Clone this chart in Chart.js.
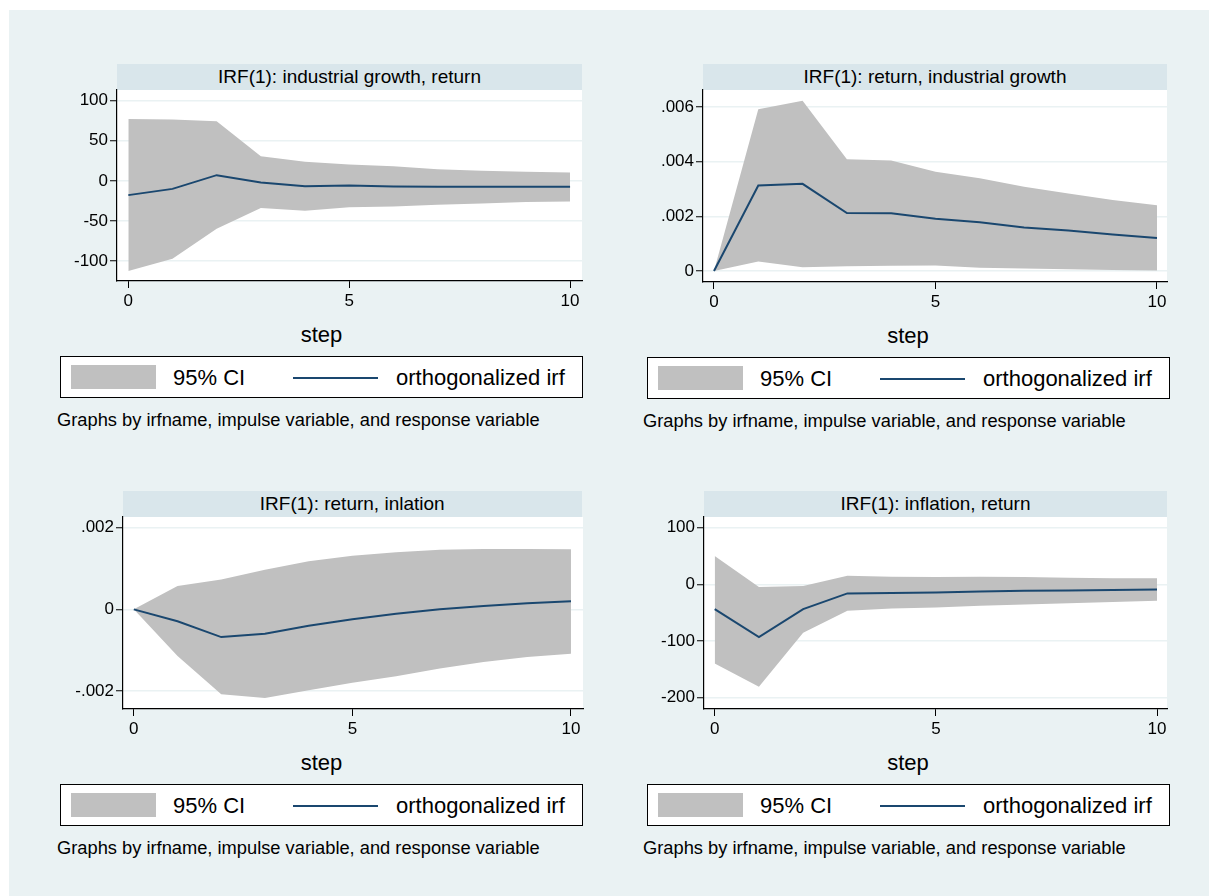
<!DOCTYPE html>
<html>
<head>
<meta charset="utf-8">
<script src="https://cdn.jsdelivr.net/npm/chart.js@4.4.1/dist/chart.umd.min.js"></script>
<style>
  html, body { margin: 0; padding: 0; background: #ffffff; }
  body { width: 1209px; height: 896px; position: relative; overflow: hidden;
         font-family: 'Liberation Sans', Arial, Helvetica, sans-serif; color: #000; }
  #bg { position: absolute; left: 9px; top: 10px; right: 0; bottom: 0; background: #eaf2f3; }
  .hdr { position: absolute; background: #d9e6eb; font-size: 19px; text-align: center;
         display: flex; align-items: center; justify-content: center; white-space: nowrap; }
  .step { position: absolute; font-size: 22px; transform: translate(-50%, -50%); white-space: nowrap; }
  .legend { position: absolute; width: 521px; height: 40px; background: #fff; border: 1.5px solid #000; }
  .legend .sw { position: absolute; left: 10px; top: 8px; width: 85px; height: 24px; background: #c0c0c0; }
  .legend .ln { position: absolute; left: 232px; top: 20px; width: 85px; height: 2px; background: #1a476f; }
  .legend .t1, .legend .t2 { position: absolute; top: 0; line-height: 42px; font-size: 22px; white-space: nowrap; }
  .legend .t1 { left: 112px; }
  .legend .t2 { left: 335px; }
  .note { position: absolute; font-size: 18.3px; transform: translateY(-50%); white-space: nowrap; }
  canvas { position: absolute; }
</style>
</head>
<body>
<div id="bg"></div>
<script>
// ── data ──
const steps = [0, 1, 2, 3, 4, 5, 6, 7, 8, 9, 10];
const xTicks = [0, 5, 10];

const p1Upper = [77, 76.5, 74.4, 30.8, 23.7, 20.4, 18.3, 14.6, 12.5, 11.2, 10.4];
const p1Lower = [-112.5, -97.2, -59.8, -34, -37.4, -33, -32, -29.9, -28.2, -26.5, -25.7];
const p1Irf = [-17.8, -10, 7.1, -2, -6.6, -5.8, -7, -7.4, -7.5, -7.5, -7.5];
const p1YTicks = [-100, -50, 0, 50, 100];
const p1YLabels = ['-100', '-50', '0', '50', '100'];

const p2Upper = [0, .00592, .00623, .00409, .00404, .00363, .00339, .00308, .00284, .0026, .00241];
const p2Lower = [0, .00035, .000135, .00017, .00019, .0002, .00012, .00009, .00006, .00004, .00002];
const p2Irf = [0, .00313, .00319, .00212, .00211, .00191, .00178, .00159, .00148, .00134, .00121];
const p2YTicks = [0, .002, .004, .006];
const p2YLabels = ['0', '.002', '.004', '.006'];

const p3Upper = [0, .00057, .00073, .00097, .00118, .00131, .0014, .00146, .00148, .00148, .00147];
const p3Lower = [0, -.00114, -.00208, -.00217, -.00198, -.0018, -.00164, -.00145, -.00129, -.00117, -.00109];
const p3Irf = [0, -.00029, -.00068, -.0006, -.0004, -.00024, -.00011, 0, .00008, .00015, .0002];
const p3YTicks = [-.002, 0, .002];
const p3YLabels = ['-.002', '0', '.002'];

const p4Upper = [50, -4.8, -3, 15.2, 13.5, 13, 13.5, 13, 11.7, 11, 11];
const p4Lower = [-139.4, -180.7, -85.4, -46.6, -42.4, -40.6, -37.7, -35.3, -33.5, -31.2, -28.9];
const p4Irf = [-43.6, -93, -43.6, -15.9, -15.3, -14.2, -12.4, -11.2, -10.6, -10, -8.9];
const p4YTicks = [-200, -100, 0, 100];
const p4YLabels = ['-200', '-100', '0', '100'];

const titles = [
  'IRF(1): industrial growth, return',
  'IRF(1): return, industrial growth',
  'IRF(1): return, inlation',
  'IRF(1): inflation, return'
];
const legendLabels = ['95% CI', 'orthogonalized irf'];
const noteText = 'Graphs by irfname, impulse variable, and response variable';

// ── layout of the four panels ──
const panels = [
  { upper: p1Upper, lower: p1Lower, irf: p1Irf, yTicks: p1YTicks, yLabels: p1YLabels,
    left: 117, right: 582, top: 90, bottom: 281, hdrTop: 64, legLeft: 60, stepX: 321.5, noteX: 57,
    xMin: -0.256, xMax: 10.27, yMin: -124.9, yMax: 113.3 },
  { upper: p2Upper, lower: p2Lower, irf: p2Irf, yTicks: p2YTicks, yLabels: p2YLabels,
    left: 703, right: 1167, top: 90, bottom: 282, hdrTop: 64, legLeft: 647, stepX: 908, noteX: 643,
    xMin: -0.248, xMax: 10.226, yMin: -0.000402, yMax: 0.006622 },
  { upper: p3Upper, lower: p3Lower, irf: p3Irf, yTicks: p3YTicks, yLabels: p3YLabels,
    left: 122.5, right: 582, top: 517, bottom: 709, hdrTop: 491, legLeft: 60, stepX: 321.5, noteX: 57,
    xMin: -0.247, xMax: 10.275, yMin: -0.002441, yMax: 0.002262 },
  { upper: p4Upper, lower: p4Lower, irf: p4Irf, yTicks: p4YTicks, yLabels: p4YLabels,
    left: 704, right: 1167, top: 517, bottom: 709, hdrTop: 491, legLeft: 647, stepX: 908, noteX: 643,
    xMin: -0.242, xMax: 10.226, yMin: -219.9, yMax: 118.9 }
];

const ciColor = '#c0c0c0';
const lineColor = '#1a476f';
const gridColor = '#eaf2f3';
const font = "'Liberation Sans', Arial, Helvetica, sans-serif";
const Y_AXIS_W = 70, X_AXIS_H = 35, PAD = 20;

// white plot region
const plotBg = {
  id: 'plotBg',
  beforeDraw(chart) {
    const a = chart.chartArea, ctx = chart.ctx;
    ctx.save();
    ctx.fillStyle = '#ffffff';
    ctx.fillRect(a.left, a.top, a.right - a.left, a.bottom - a.top);
    ctx.restore();
  }
};

function el(cls, css, text) {
  const d = document.createElement('div');
  d.className = cls;
  Object.assign(d.style, css);
  if (text !== undefined) d.textContent = text;
  document.body.appendChild(d);
  return d;
}

panels.forEach((p, i) => {
  // header strip
  el('hdr', { left: p.left + 'px', top: p.hdrTop + 'px', width: (p.right - p.left) + 'px',
              height: (p.top - p.hdrTop) + 'px' }, titles[i]);

  // x axis title
  el('step', { left: p.stepX + 'px', top: (p.bottom + 54) + 'px' }, 'step');

  // legend
  const leg = el('legend', { left: p.legLeft + 'px', top: (p.bottom + 75) + 'px' });
  leg.innerHTML = '<div class="sw"></div><div class="t1"></div><div class="ln"></div><div class="t2"></div>';
  leg.querySelector('.t1').textContent = legendLabels[0];
  leg.querySelector('.t2').textContent = legendLabels[1];

  // note
  el('note', { left: p.noteX + 'px', top: (p.bottom + 138.5) + 'px' }, noteText);

  // chart canvas
  const cv = document.createElement('canvas');
  const w = Math.round(p.right - p.left) + Y_AXIS_W + PAD;
  const h = Math.round(p.bottom - p.top) + PAD + X_AXIS_H;
  cv.width = w; cv.height = h;
  cv.style.left = (p.left - Y_AXIS_W) + 'px';
  cv.style.top = (p.top - PAD) + 'px';
  cv.style.width = w + 'px'; cv.style.height = h + 'px';
  document.body.appendChild(cv);

  const pts = arr => steps.map((s, k) => ({ x: s, y: arr[k] }));

  new Chart(cv, {
    type: 'line',
    data: {
      datasets: [
        { label: 'lower', data: pts(p.lower), borderWidth: 0, borderColor: 'transparent',
          pointRadius: 0, fill: false, order: 2 },
        { label: legendLabels[0], data: pts(p.upper), borderWidth: 0, borderColor: 'transparent',
          backgroundColor: ciColor, pointRadius: 0, fill: '-1', order: 1 },
        { label: legendLabels[1], data: pts(p.irf), borderWidth: 2, borderColor: lineColor,
          pointRadius: 0, fill: false, tension: 0, order: 0 }
      ]
    },
    options: {
      responsive: false,
      animation: false,
      devicePixelRatio: 1,
      layout: { padding: { top: PAD, right: PAD, left: 0, bottom: 0 } },
      plugins: { legend: { display: false }, tooltip: { enabled: false } },
      scales: {
        x: {
          type: 'linear', min: p.xMin, max: p.xMax,
          afterFit(s) { s.height = X_AXIS_H; },
          afterBuildTicks(s) { s.ticks = xTicks.map(v => ({ value: v })); },
          grid: { drawOnChartArea: false, drawTicks: true, tickLength: 7, tickColor: '#000', tickWidth: 1 },
          border: { display: true, color: '#000', width: 1.2 },
          ticks: { color: '#000', font: { family: font, size: 17 }, padding: 3, maxRotation: 0,
                   callback: v => String(v) }
        },
        y: {
          type: 'linear', min: p.yMin, max: p.yMax,
          afterFit(s) { s.width = Y_AXIS_W; },
          afterBuildTicks(s) { s.ticks = p.yTicks.map(v => ({ value: v })); },
          grid: { color: gridColor, lineWidth: 1.5, drawTicks: true, tickLength: 7,
                  tickColor: '#000', tickWidth: 1 },
          border: { display: true, color: '#000', width: 1.2 },
          ticks: { color: '#000', font: { family: font, size: 17 }, padding: 2,
                   callback: v => { const k = p.yTicks.indexOf(v); return k >= 0 ? p.yLabels[k] : ''; } }
        }
      }
    },
    plugins: [plotBg]
  });
});
</script>
</body>
</html>
